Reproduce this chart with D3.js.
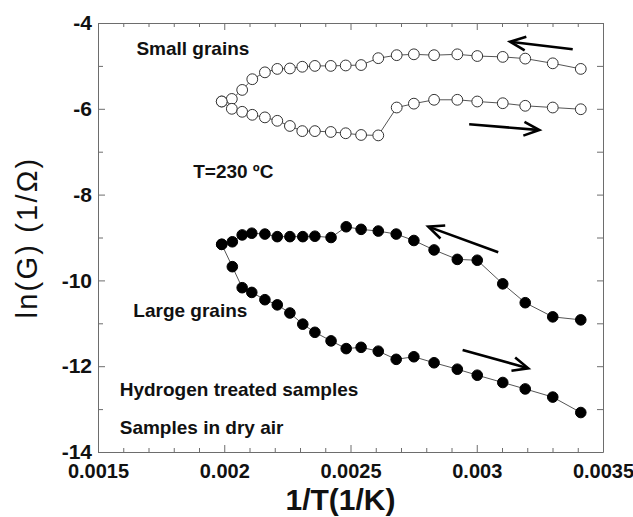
<!DOCTYPE html>
<html>
<head>
<meta charset="utf-8">
<script src="https://cdn.jsdelivr.net/npm/d3@7/dist/d3.min.js"></script>
<style>
  html, body { margin: 0; padding: 0; background: #fff; }
  svg { display: block; }
  text { font-family: "Liberation Sans", Arial, Helvetica, sans-serif; }
</style>
</head>
<body>
<svg id="chart" width="633" height="517"></svg>
<script>
// 1/T values (1/K) for each measured point
const smallUpperX = [0.001990, 0.002030, 0.002071, 0.002111, 0.002161, 0.002210, 0.002260, 0.002309, 0.002359, 0.002422, 0.002481, 0.002542, 0.002610, 0.002683, 0.002751, 0.002831, 0.002923, 0.003002, 0.003103, 0.003192, 0.003301, 0.003412];
const smallUpperY = [-5.83, -5.77, -5.56, -5.31, -5.15, -5.07, -5.06, -5.02, -5.00, -5.00, -4.99, -4.98, -4.82, -4.75, -4.73, -4.75, -4.73, -4.77, -4.79, -4.83, -4.94, -5.07];

const smallLowerX = [0.001990, 0.002030, 0.002071, 0.002111, 0.002161, 0.002210, 0.002260, 0.002309, 0.002359, 0.002422, 0.002481, 0.002542, 0.002610, 0.002683, 0.002751, 0.002831, 0.002923, 0.003002, 0.003103, 0.003192, 0.003301, 0.003412];
const smallLowerY = [-5.83, -6.00, -6.07, -6.14, -6.20, -6.28, -6.40, -6.52, -6.52, -6.54, -6.57, -6.61, -6.62, -5.97, -5.88, -5.79, -5.79, -5.83, -5.87, -5.93, -5.97, -6.01];

const largeUpperX = [0.001990, 0.002032, 0.002071, 0.002109, 0.002161, 0.002210, 0.002260, 0.002311, 0.002359, 0.002423, 0.002483, 0.002542, 0.002610, 0.002681, 0.002751, 0.002831, 0.002923, 0.003002, 0.003103, 0.003192, 0.003301, 0.003412];
const largeUpperY = [-9.16, -9.10, -8.94, -8.90, -8.92, -8.98, -8.98, -8.98, -8.97, -9.00, -8.75, -8.81, -8.85, -8.92, -9.07, -9.29, -9.51, -9.53, -10.08, -10.52, -10.85, -10.92];

const largeLowerX = [0.001990, 0.002032, 0.002071, 0.002109, 0.002161, 0.002210, 0.002260, 0.002311, 0.002359, 0.002423, 0.002483, 0.002542, 0.002610, 0.002681, 0.002751, 0.002831, 0.002923, 0.003002, 0.003103, 0.003192, 0.003301, 0.003412];
const largeLowerY = [-9.16, -9.68, -10.17, -10.28, -10.45, -10.57, -10.76, -11.02, -11.21, -11.41, -11.59, -11.56, -11.65, -11.84, -11.78, -11.92, -12.07, -12.21, -12.38, -12.53, -12.72, -13.08];

// Axis ticks
const xMajorTicks = [0.0015, 0.002, 0.0025, 0.003, 0.0035];
const xTickLabels = ["0.0015", "0.002", "0.0025", "0.003", "0.0035"];
const yMajorTicks = [-4, -6, -8, -10, -12, -14];
const yTickLabels = ["-4", "-6", "-8", "-10", "-12", "-14"];

// Direction arrows: tail [x, y] and head [x, y] in data units
const arrowStarts = [[0.003380, -4.613], [0.002970, -6.361], [0.003085, -9.345], [0.002944, -11.622]];
const arrowEnds   = [[0.003132, -4.436], [0.003248, -6.494], [0.002808, -8.748], [0.003204, -12.049]];

// Annotations: [text, x, y] in data units for the left edge/baseline
const noteText = ["Small grains", "T=230 ºC", "Large grains", "Hydrogen treated samples", "Samples in dry air"];
const noteX = [0.001652, 0.001877, 0.001640, 0.001586, 0.001586];
const noteY = [-4.75, -7.61, -10.85, -12.69, -13.58];

const svg = d3.select("#chart");
const m = { left: 98, right: 603, top: 23, bottom: 452 };

const x = d3.scaleLinear().domain([0.0015, 0.0035]).range([m.left, m.right]);
const y = d3.scaleLinear().domain([-14, -4]).range([m.bottom, m.top]);

const axisColor = "#6d6d6d";
const xMinor = d3.range(15, 36).map(d => d / 10000).filter(v => !xMajorTicks.some(t => Math.abs(t - v) < 1e-9));
const yMinor = [-5, -7, -9, -11, -13];

function styleAxis(g) {
  g.selectAll("path.domain").attr("stroke", axisColor).attr("stroke-width", 1);
  g.selectAll(".tick line").attr("stroke", axisColor).attr("stroke-width", 1);
}

// Bottom axis with labels
const gb = svg.append("g").attr("transform", `translate(0,${m.bottom})`)
  .call(d3.axisBottom(x).tickValues(xMajorTicks).tickSizeInner(-7).tickSizeOuter(0).tickPadding(8)
    .tickFormat((d, i) => xTickLabels[i]));
styleAxis(gb);
gb.selectAll("text").attr("fill", "#111").attr("font-size", 20).attr("font-weight", "bold").attr("dy", "0.92em");
svg.append("g").attr("transform", `translate(0,${m.bottom})`)
  .call(d3.axisBottom(x).tickValues(xMinor).tickSizeInner(-4).tickSizeOuter(0).tickFormat(""))
  .call(g => { g.select("path.domain").remove(); styleAxis(g); });

// Top axis
const gt = svg.append("g").attr("transform", `translate(0,${m.top})`)
  .call(d3.axisTop(x).tickValues(xMajorTicks).tickSizeInner(-7).tickSizeOuter(0).tickFormat(""));
styleAxis(gt);
svg.append("g").attr("transform", `translate(0,${m.top})`)
  .call(d3.axisTop(x).tickValues(xMinor).tickSizeInner(-4).tickSizeOuter(0).tickFormat(""))
  .call(g => { g.select("path.domain").remove(); styleAxis(g); });

// Left axis with labels
const gl = svg.append("g").attr("transform", `translate(${m.left},0)`)
  .call(d3.axisLeft(y).tickValues(yMajorTicks).tickSizeInner(-7).tickSizeOuter(0).tickPadding(6)
    .tickFormat((d, i) => yTickLabels[i]));
styleAxis(gl);
gl.selectAll("text").attr("fill", "#111").attr("font-size", 21).attr("font-weight", "bold");
svg.append("g").attr("transform", `translate(${m.left},0)`)
  .call(d3.axisLeft(y).tickValues(yMinor).tickSizeInner(-5).tickSizeOuter(0).tickFormat(""))
  .call(g => { g.select("path.domain").remove(); styleAxis(g); });

// Right axis
const gr = svg.append("g").attr("transform", `translate(${m.right},0)`)
  .call(d3.axisRight(y).tickValues(yMajorTicks.concat(yMinor)).tickSizeInner(-6).tickSizeOuter(0).tickFormat(""));
styleAxis(gr);

// Axis titles
svg.append("text")
  .attr("x", (m.left + m.right) / 2 - 10).attr("y", 510)
  .attr("text-anchor", "middle").attr("font-size", 30).attr("font-weight", "bold").attr("fill", "#111")
  .text("1/T(1/K)");
svg.append("text")
  .attr("transform", `translate(37,${(m.top + m.bottom) / 2}) rotate(-90)`)
  .attr("text-anchor", "middle").attr("font-size", 29).attr("letter-spacing", 2.2).attr("fill", "#111")
  .text("ln(G) (1/Ω)");

// Data series
const line = d3.line().x(d => x(d[0])).y(d => y(d[1]));
const series = [
  { xs: smallUpperX, ys: smallUpperY, filled: false },
  { xs: smallLowerX, ys: smallLowerY, filled: false },
  { xs: largeUpperX, ys: largeUpperY, filled: true },
  { xs: largeLowerX, ys: largeLowerY, filled: true }
];
series.forEach(s => {
  const pts = s.xs.map((v, i) => [v, s.ys[i]]);
  svg.append("path").datum(pts).attr("d", line)
    .attr("fill", "none").attr("stroke", "#555").attr("stroke-width", 1);
  svg.append("g").selectAll("circle").data(pts).join("circle")
    .attr("cx", d => x(d[0])).attr("cy", d => y(d[1]))
    .attr("r", s.filled ? 5.3 : 5.4)
    .attr("fill", s.filled ? "#000" : "#fff")
    .attr("stroke", s.filled ? "#000" : "#333")
    .attr("stroke-width", 1);
});

// Direction arrows
arrowStarts.forEach((a, i) => {
  const b = arrowEnds[i];
  const x0 = x(a[0]), y0 = y(a[1]), x1 = x(b[0]), y1 = y(b[1]);
  const ang = Math.atan2(y1 - y0, x1 - x0);
  const hl = 17, spread = 0.42;
  svg.append("line").attr("x1", x0).attr("y1", y0).attr("x2", x1 - 2 * Math.cos(ang)).attr("y2", y1 - 2 * Math.sin(ang))
    .attr("stroke", "#000").attr("stroke-width", 2.6);
  const p1 = [x1 - hl * Math.cos(ang - spread), y1 - hl * Math.sin(ang - spread)];
  const p2 = [x1 - hl * Math.cos(ang + spread), y1 - hl * Math.sin(ang + spread)];
  svg.append("path")
    .attr("d", `M${p1[0]},${p1[1]}L${x1},${y1}L${p2[0]},${p2[1]}`)
    .attr("fill", "none").attr("stroke", "#000").attr("stroke-width", 2.6).attr("stroke-linejoin", "miter");
});

// Annotations
noteText.forEach((t, i) => {
  svg.append("text").attr("x", x(noteX[i])).attr("y", y(noteY[i]))
    .attr("font-size", 19).attr("font-weight", "bold").attr("fill", "#111").text(t);
});
</script>
</body>
</html>
